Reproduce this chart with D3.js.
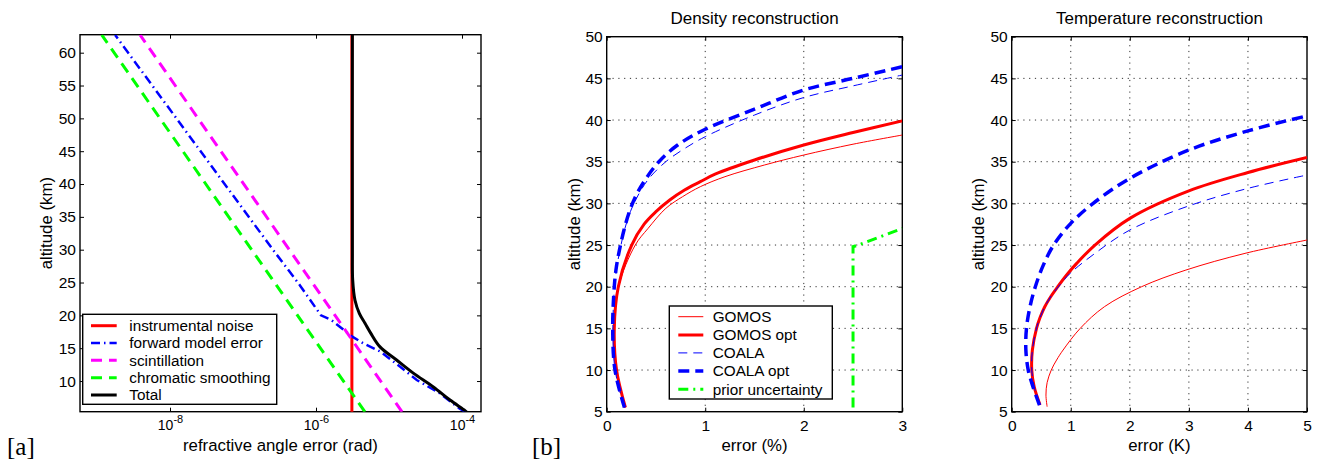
<!DOCTYPE html>
<html>
<head>
<meta charset="utf-8">
<script src="https://cdn.jsdelivr.net/npm/d3@7"></script>
<style>
  body { margin: 0; background: #fff; }
  svg { font-family: "Liberation Sans", Arial, sans-serif; }
</style>
</head>
<body>
<script>
/* ---------- [a] refractive angle error vs altitude ---------- */
const altEdges = [5.3, 62.7];
const noiseErr = [3.1e-6, 3.1e-6];
const scintErr = [1.51e-5, 3.89e-9];
const chromErr = [4.68e-6, 1.16e-9];
const fwdAlt = [5.3, 5.8, 8.1, 10.15, 12.2, 14.5, 15.7, 16.8, 19.3, 20, 24.6, 30, 62.7];
const fwdErr = [1.12e-4, 9.3e-5, 5.0e-5, 2.4e-5, 1.41e-5, 7.6e-6, 4.5e-6, 3.1e-6, 1.62e-6, 1.17e-6, 6.0e-7, 2.57e-7, 1.77e-9];
const totalAlt = [5.3, 5.5, 7.1, 9.1, 11.2, 13.2, 15.2, 17.3, 18.8, 20.3, 22.3, 25.4, 30, 62.7];
const totalErr = [1.15e-4, 1.10e-4, 6.85e-5, 4.05e-5, 2.15e-5, 1.27e-5, 7.53e-6, 5.61e-6, 4.69e-6, 3.92e-6, 3.42e-6, 3.18e-6, 3.15e-6, 3.15e-6];
const logTicks = [1e-8, 1e-6, 1e-4];
const altTicksA = [10, 15, 20, 25, 30, 35, 40, 45, 50, 55, 60];

/* ---------- [b] density reconstruction ---------- */
const gomosDensAlt = [5.5, 10, 15, 20, 25, 27, 29.4, 30.8, 32.0, 33.2, 34.6, 35.8, 37.1, 38.2];
const gomosDensErr = [0.19, 0.10, 0.08, 0.12, 0.29, 0.42, 0.60, 0.77, 0.95, 1.2, 1.6, 2.0, 2.5, 3.0];
const gomosOptDensAlt = [5.5, 10, 15, 20, 25, 27.5, 29, 30.4, 31.6, 32.6, 33.5, 35.2, 37.0, 38.5, 39.9];
const gomosOptDensErr = [0.19, 0.10, 0.077, 0.118, 0.254, 0.38, 0.5, 0.64, 0.79, 0.95, 1.1, 1.5, 2.0, 2.5, 3.0];
const coalaDensAlt = [5.5, 10, 15, 20, 22.5, 25, 27, 29, 31, 33, 35, 36.5, 38.0, 40.6, 42.7, 44.1, 45.4];
const coalaDensErr = [0.18, 0.085, 0.063, 0.08, 0.105, 0.145, 0.185, 0.24, 0.32, 0.43, 0.6, 0.78, 1.0, 1.5, 2.0, 2.5, 3.0];
const coalaOptDensAlt = [5.5, 10, 15, 20, 22.5, 25, 27, 29, 31, 33, 35, 37, 38.9, 41.3, 43.6, 45.0, 46.4];
const coalaOptDensErr = [0.18, 0.084, 0.061, 0.077, 0.1, 0.14, 0.18, 0.23, 0.30, 0.40, 0.53, 0.72, 1.0, 1.5, 2.0, 2.5, 3.0];
const priorAlt = [5.5, 24.8, 25.0, 27.0];
const priorErr = [2.5, 2.5, 2.555, 3.0];
const densTicks = [0, 1, 2, 3];

/* ---------- [b] temperature reconstruction ---------- */
const gomosTempAlt = [5.6, 7, 8.5, 10, 11.2, 12.4, 15, 17.6, 20, 22, 24, 25.6];
const gomosTempErr = [0.60, 0.58, 0.60, 0.67, 0.76, 0.87, 1.16, 1.57, 2.2, 2.95, 3.95, 5.0];
const gomosOptTempAlt = [5.8, 8, 10, 12.4, 15, 16.3, 17.6, 18.8, 20, 21.4, 22.8, 25, 28.2, 31.5, 33.7, 35.5];
const gomosOptTempErr = [0.48, 0.38, 0.34, 0.35, 0.42, 0.48, 0.56, 0.66, 0.78, 0.93, 1.10, 1.41, 2.0, 3.0, 4.0, 5.0];
const coalaTempAlt = [5.8, 8, 10, 12.4, 15, 16.3, 17.6, 18.8, 20, 21.6, 24, 26.8, 29.7, 31.8, 33.4];
const coalaTempErr = [0.48, 0.38, 0.34, 0.35, 0.42, 0.48, 0.56, 0.66, 0.79, 0.99, 1.41, 2.0, 3.0, 4.0, 5.0];
const coalaOptTempAlt = [5.8, 8, 10, 12.4, 15, 17.6, 20, 22.5, 25, 27.6, 30, 33, 36.4, 38.7, 40.5];
const coalaOptTempErr = [0.47, 0.36, 0.28, 0.24, 0.25, 0.31, 0.40, 0.53, 0.71, 1.0, 1.38, 2.0, 3.0, 4.0, 5.0];
const tempTicks = [0, 1, 2, 3, 4, 5];
const altTicksB = [5, 10, 15, 20, 25, 30, 35, 40, 45, 50];

const svg = d3.select('body').append('svg')
  .attr('width', 1318).attr('height', 464);

const TICK = 15.5, LABEL = 16.8;

// axes frame: inward ticks on all 4 sides, optional dotted grid, clip rect
function frame(id, x, y, xTicks, yTicks, opts) {
  const [x0, x1] = x.range(), [y0, y1] = y.range();
  svg.append('clipPath').attr('id', id).append('rect')
    .attr('x', x0).attr('y', y1).attr('width', x1 - x0).attr('height', y0 - y1);

  if (opts.grid) {
    const gg = svg.append('g').attr('stroke', '#333').attr('stroke-width', 1)
      .attr('stroke-dasharray', '1.2,4.6');
    gg.selectAll('.gx').data(xTicks.filter(d => x(d) > x0 + 1 && x(d) < x1 - 1)).join('line')
      .attr('x1', d => x(d)).attr('x2', d => x(d)).attr('y1', y0).attr('y2', y1);
    gg.selectAll('.gy').data(yTicks.filter(d => y(d) < y0 - 1 && y(d) > y1 + 1)).join('line')
      .attr('y1', d => y(d)).attr('y2', d => y(d)).attr('x1', x0).attr('x2', x1);
  }

  const clean = g => {
    g.select('.domain').remove();
    g.attr('font-family', null).attr('font-size', TICK);
    g.selectAll('.tick line').attr('stroke', '#000').attr('stroke-width', 1);
    g.selectAll('.tick text').attr('fill', '#000');
  };
  const bottom = svg.append('g').attr('transform', `translate(0,${y0})`)
    .call(d3.axisBottom(x).tickValues(xTicks).tickSize(-4).tickPadding(opts.xPad)
      .tickFormat(opts.xFormat || null)).call(clean);
  svg.append('g').attr('transform', `translate(0,${y1})`)
    .call(d3.axisTop(x).tickValues(xTicks).tickSize(-4).tickFormat('')).call(clean);
  svg.append('g').attr('transform', `translate(${x0},0)`)
    .call(d3.axisLeft(y).tickValues(yTicks).tickSize(-4).tickPadding(4)
      .tickFormat(d3.format('d'))).call(clean);
  svg.append('g').attr('transform', `translate(${x1},0)`)
    .call(d3.axisRight(y).tickValues(yTicks).tickSize(-4).tickFormat('')).call(clean);

  svg.append('rect').attr('x', x0).attr('y', y1)
    .attr('width', x1 - x0).attr('height', y0 - y1)
    .attr('fill', 'none').attr('stroke', '#000').attr('stroke-width', 1.4);
  return bottom;
}

function drawSeries(id, x, y, list) {
  const g = svg.append('g').attr('clip-path', `url(#${id})`);
  list.forEach(s => {
    const pts = s.alt.map((a, i) => [x(s.err[i]), y(a)]);
    g.append('path')
      .attr('d', d3.line().curve(s.smooth ? d3.curveCatmullRom.alpha(0.5) : d3.curveLinear)(pts))
      .attr('fill', 'none').attr('stroke', s.color).attr('stroke-width', s.width)
      .attr('stroke-dasharray', s.dash || null);
  });
}

function legend(x, y, w, h, rowY, lineX, textX, list) {
  svg.append('rect').attr('x', x).attr('y', y).attr('width', w).attr('height', h)
    .attr('fill', '#fff').attr('stroke', '#000').attr('stroke-width', 1.4);
  list.forEach((s, i) => {
    const yy = rowY[i];
    svg.append('line').attr('x1', lineX[0]).attr('x2', lineX[1]).attr('y1', yy).attr('y2', yy)
      .attr('stroke', s.color).attr('stroke-width', s.width)
      .attr('stroke-dasharray', s.dash || null);
    svg.append('text').attr('x', textX).attr('y', yy).attr('dy', '0.35em')
      .attr('font-size', 15.3).text(s.name);
  });
}

function yLabel(xb, y0, y1) {
  svg.append('text')
    .attr('transform', `translate(${xb},${(y0 + y1) / 2}) rotate(-90)`)
    .attr('text-anchor', 'middle').attr('font-size', LABEL).text('altitude (km)');
}

/* ---------- panel [a] ---------- */
const xA = d3.scaleLog().domain([5.85e-10, 1.82e-4]).range([80, 481]);
const yA = d3.scaleLinear().domain([5.33, 62.74]).range([411.7, 34.7]);
const gxA = frame('clipA', xA, yA, logTicks, altTicksA, { grid: false, xPad: 8 });
gxA.selectAll('.tick text').text('').attr('font-size', 14)
  .call(t => t.append('tspan').text('10'))
  .call(t => t.append('tspan').attr('dy', -6.5).attr('font-size', 11)
    .text(d => Math.round(Math.log10(d))));

const seriesA = [
  { name: 'instrumental noise', alt: altEdges, err: noiseErr, color: '#ff0000', width: 3 },
  { name: 'forward model error', alt: fwdAlt, err: fwdErr, color: '#0000ff', width: 2.5, dash: '9,4,1.5,4' },
  { name: 'scintillation', alt: altEdges, err: scintErr, color: '#ff00ff', width: 3, dash: '11,7' },
  { name: 'chromatic smoothing', alt: altEdges, err: chromErr, color: '#00ff00', width: 3, dash: '11,7' },
  { name: 'Total', alt: totalAlt, err: totalErr, color: '#000', width: 3, smooth: true }
];
drawSeries('clipA', xA, yA, seriesA);
legend(82.7, 314.3, 194, 90, [325.7, 343, 360.3, 377.7, 395], [91, 116.7], 129.3, seriesA);
yLabel(52, 411.7, 34.7);
svg.append('text').attr('x', 280.5).attr('y', 450.7).attr('text-anchor', 'middle')
  .attr('font-size', LABEL).text('refractive angle error (rad)');
svg.append('text').attr('x', 7).attr('y', 455).attr('font-family', '"Liberation Serif", serif')
  .attr('font-size', 25).text('[a]');

/* ---------- panel density ---------- */
const xB = d3.scaleLinear().domain([0, 3]).range([606.7, 902.3]);
const yB = d3.scaleLinear().domain([5, 50]).range([411.7, 36.7]);
frame('clipB', xB, yB, densTicks, altTicksB, { grid: true, xPad: 8, xFormat: d3.format('d') });
const seriesB = [
  { name: 'GOMOS', alt: gomosDensAlt, err: gomosDensErr, color: '#ff0000', width: 1, smooth: true },
  { name: 'GOMOS opt', alt: gomosOptDensAlt, err: gomosOptDensErr, color: '#ff0000', width: 3, smooth: true },
  { name: 'COALA', alt: coalaDensAlt, err: coalaDensErr, color: '#0000ff', width: 1, dash: '9,6', smooth: true },
  { name: 'COALA opt', alt: coalaOptDensAlt, err: coalaOptDensErr, color: '#0000ff', width: 3.5, dash: '11,6', smooth: true },
  { name: 'prior uncertainty', alt: priorAlt, err: priorErr, color: '#00ff00', width: 3, dash: '10,5,2,5' }
];
drawSeries('clipB', xB, yB, seriesB);
legend(669.3, 306, 163, 93, [316.7, 335, 352.9, 371, 389.3], [678.3, 703.3], 712.7, seriesB);
yLabel(580, 411.7, 36.7);
svg.append('text').attr('x', 754.5).attr('y', 450.5).attr('text-anchor', 'middle')
  .attr('font-size', LABEL).text('error (%)');
svg.append('text').attr('x', 754.5).attr('y', 24).attr('text-anchor', 'middle')
  .attr('font-size', 17).text('Density reconstruction');
svg.append('text').attr('x', 532).attr('y', 455).attr('font-family', '"Liberation Serif", serif')
  .attr('font-size', 25).text('[b]');

/* ---------- panel temperature ---------- */
const xC = d3.scaleLinear().domain([0, 5]).range([1011.7, 1307]);
const yC = d3.scaleLinear().domain([5, 50]).range([411.7, 36.7]);
frame('clipC', xC, yC, tempTicks, altTicksB, { grid: true, xPad: 8, xFormat: d3.format('d') });
const seriesC = [
  { alt: gomosTempAlt, err: gomosTempErr, color: '#ff0000', width: 1, smooth: true },
  { alt: gomosOptTempAlt, err: gomosOptTempErr, color: '#ff0000', width: 3, smooth: true },
  { alt: coalaTempAlt, err: coalaTempErr, color: '#0000ff', width: 1, dash: '9,6', smooth: true },
  { alt: coalaOptTempAlt, err: coalaOptTempErr, color: '#0000ff', width: 3.5, dash: '11,6', smooth: true }
];
drawSeries('clipC', xC, yC, seriesC);
yLabel(983.5, 411.7, 36.7);
svg.append('text').attr('x', 1159.4).attr('y', 450.5).attr('text-anchor', 'middle')
  .attr('font-size', LABEL).text('error (K)');
svg.append('text').attr('x', 1159.4).attr('y', 24).attr('text-anchor', 'middle')
  .attr('font-size', 17).text('Temperature reconstruction');
</script>
</body>
</html>
